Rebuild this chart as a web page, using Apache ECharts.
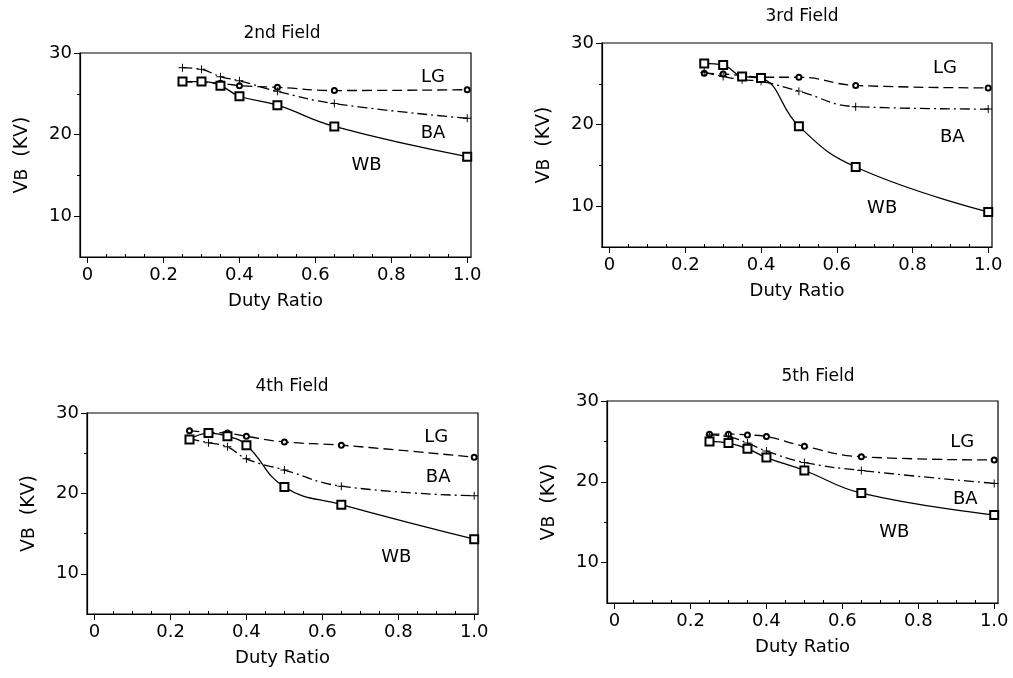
<!DOCTYPE html>
<html>
<head>
<meta charset="utf-8">
<script src="https://cdn.jsdelivr.net/npm/echarts@6/dist/echarts.min.js"></script>
<style>
html,body{margin:0;padding:0;background:#fff;}
#c{width:1013px;height:678px;}
</style>
</head>
<body>
<div id="c"></div>
<script>
// ---- data ----
const dutyRatio = [0.25, 0.3, 0.35, 0.4, 0.5, 0.65, 1.0];
const panelTitles = ['2nd Field', '3rd Field', '4th Field', '5th Field'];
const seriesNames = ['LG', 'BA', 'WB'];

const field2LG = [26.5, 26.4, 26.3, 26.0, 25.8, 25.4, 25.5];
const field2BA = [28.2, 28.0, 27.1, 26.6, 25.3, 23.8, 22.0];
const field2WB = [26.5, 26.5, 26.0, 24.7, 23.6, 21.0, 17.3];

const field3LG = [26.3, 26.2, 26.0, 25.8, 25.8, 24.8, 24.5];
const field3BA = [26.4, 25.9, 25.5, 25.3, 24.1, 22.2, 21.9];
const field3WB = [27.5, 27.3, 25.9, 25.7, 19.8, 14.8, 9.3];

const field4LG = [27.8, 27.6, 27.5, 27.1, 26.4, 26.0, 24.5];
const field4BA = [26.8, 26.3, 25.8, 24.3, 22.9, 20.9, 19.7];
const field4WB = [26.7, 27.5, 27.1, 26.0, 20.8, 18.6, 14.3];

const field5LG = [25.9, 25.9, 25.8, 25.6, 24.4, 23.1, 22.7];
const field5BA = [25.8, 25.6, 24.8, 23.8, 22.4, 21.4, 19.8];
const field5WB = [25.0, 24.8, 24.1, 23.0, 21.4, 18.6, 15.9];

const xTickValues = [0, 0.2, 0.4, 0.6, 0.8, 1.0];
const xTickLabels = ['0', '0.2', '0.4', '0.6', '0.8', '1.0'];
const xMinorTicks = [0.05,0.1,0.15,0.25,0.3,0.35,0.45,0.5,0.55,0.65,0.7,0.75,0.85,0.9,0.95];
const yTickValues = [10, 20, 30];
const yMinorTicks = [15, 25];

// curve label anchors (data coordinates) per panel: LG, BA, WB
const labelAnchorsX = [[0.91, 0.91, 0.735], [0.886, 0.905, 0.72], [0.90, 0.905, 0.795], [0.916, 0.924, 0.737]];
const labelAnchorsY = [[27.05, 20.1, 16.25], [26.9, 18.5, 9.75], [27.0, 22.05, 12.0], [24.9, 17.8, 13.7]];

const panelData = [
  [field2LG, field2BA, field2WB],
  [field3LG, field3BA, field3WB],
  [field4LG, field4BA, field4WB],
  [field5LG, field5BA, field5WB]
];

// ---- layout ----
const FONT = 'DejaVu Sans';
const grids = [
  {left: 80, top: 53, width: 391, height: 204},
  {left: 602, top: 43, width: 390, height: 204},
  {left: 87, top: 413, width: 391, height: 201},
  {left: 607, top: 401, width: 391, height: 202}
];
const titlePos = [[277, 20], [797, 3], [287, 373], [813, 363]];

const plusPath = 'path://M4.4,0H5.6V4.4H10V5.6H5.6V10H4.4V5.6H0V4.4H4.4Z';

const option = {
  animation: false,
  backgroundColor: '#fff',
  textStyle: {fontFamily: FONT, color: '#000'},
  title: panelTitles.map((t, i) => ({
    text: t, left: titlePos[i][0], top: titlePos[i][1], textAlign: 'center',
    textStyle: {fontFamily: FONT, fontSize: 17, fontWeight: 'normal', color: '#000'}
  })),
  grid: grids.map(g => Object.assign({show: true, borderColor: '#000', borderWidth: 1.2, backgroundColor: '#fff'}, g)),
  xAxis: [],
  yAxis: [],
  series: []
};

for (let i = 0; i < 4; i++) {
  option.xAxis.push({
    type: 'value', gridIndex: i, min: -0.02, max: 1.01,
    name: 'Duty Ratio', nameLocation: 'middle', nameGap: 35,
    nameTextStyle: {fontFamily: FONT, fontSize: 18, color: '#000'},
    axisLine: {show: true, onZero: false, lineStyle: {color: '#000', width: 1.2}},
    axisTick: {show: true, customValues: xTickValues, length: 6, lineStyle: {color: '#000'}},
    axisLabel: {show: true, customValues: xTickValues, fontFamily: FONT, fontSize: 18, color: '#000', margin: 9,
      formatter: v => xTickLabels[xTickValues.findIndex(t => Math.abs(t - v) < 1e-6)] || ''},
    splitLine: {show: false}
  });
  option.yAxis.push({
    type: 'value', gridIndex: i, min: 5, max: 30,
    name: '{v|V}{s|B}  (KV)', nameLocation: 'middle', nameGap: 48,
    nameTextStyle: {fontFamily: FONT, fontSize: 19, color: '#000',
      rich: {v: {fontFamily: FONT, fontSize: 19, color: '#000'}, s: {fontFamily: FONT, fontSize: 17, color: '#000'}}},
    axisLine: {show: true, onZero: false, lineStyle: {color: '#000', width: 1.2}},
    axisTick: {show: true, customValues: yTickValues, length: 6, lineStyle: {color: '#000'}},
    axisLabel: {show: true, customValues: yTickValues, fontFamily: FONT, fontSize: 18, color: '#000', margin: 8},
    splitLine: {show: false}
  });
}
// minor tick axes
for (let i = 0; i < 4; i++) {
  option.xAxis.push({
    type: 'value', gridIndex: i, min: -0.02, max: 1.01, position: 'bottom',
    axisLine: {show: false, onZero: false},
    axisTick: {show: true, inside: true, customValues: xMinorTicks, length: 3, lineStyle: {color: '#000'}},
    axisLabel: {show: false}, splitLine: {show: false}
  });
  option.yAxis.push({
    type: 'value', gridIndex: i, min: 5, max: 30, position: 'left',
    axisLine: {show: false, onZero: false},
    axisTick: {show: true, customValues: yMinorTicks, length: 3, lineStyle: {color: '#000'}},
    axisLabel: {show: false}, splitLine: {show: false}
  });
}

const lineStyles = [
  {type: [10, 5], width: 1.3},
  {type: [10, 4, 2, 4], width: 1.3},
  {type: 'solid', width: 1.3}
];
const symbols = ['emptyCircle', plusPath, 'emptyRect'];
const symbolSizes = [5, 8, 8];

for (let i = 0; i < 4; i++) {
  for (let s = 0; s < 3; s++) {
    const vals = panelData[i][s];
    option.series.push({
      type: 'line', name: seriesNames[s] + i,
      xAxisIndex: i, yAxisIndex: i,
      data: dutyRatio.map((x, k) => [x, vals[k]]),
      smooth: 0.45,
      symbol: symbols[s], symbolSize: symbolSizes[s],
      showSymbol: true,
      lineStyle: Object.assign({color: '#000'}, lineStyles[s]),
      itemStyle: s === 1 ? {color: '#000', borderWidth: 0} : {color: '#000', borderColor: '#000', borderWidth: 1.1},
      markPoint: {
        symbol: 'circle', symbolSize: 0, silent: true,
        label: {show: true, position: 'inside', formatter: seriesNames[s], fontFamily: FONT, fontSize: 18, color: '#000'},
        data: [{coord: [labelAnchorsX[i][s], labelAnchorsY[i][s]]}]
      }
    });
  }
}

const chart = echarts.init(document.getElementById('c'), null, {renderer: 'canvas'});
chart.setOption(option);
</script>
</body>
</html>
